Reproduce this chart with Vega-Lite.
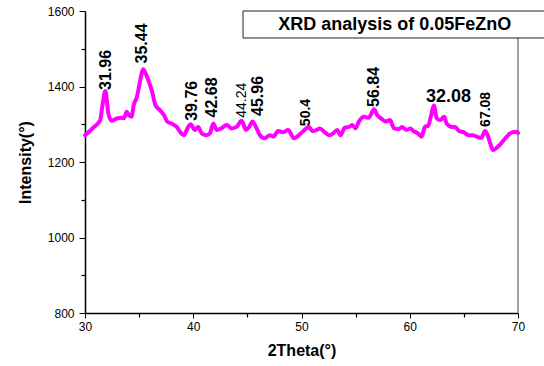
{
  "$schema": "https://vega.github.io/schema/vega-lite/v6.json",
  "width": 433,
  "height": 302,
  "autosize": {"type": "none"},
  "padding": {"left": 85, "top": 11, "right": 26, "bottom": 53},
  "config": {
    "font": "Liberation Sans",
    "view": {"stroke": null},
    "axis": {
      "grid": false,
      "domainColor": "#000000",
      "domainWidth": 1.5,
      "tickColor": "#000000",
      "tickWidth": 1,
      "labelColor": "#000000",
      "labelFont": "Liberation Sans",
      "labelFlush": false,
      "titleFont": "Liberation Sans",
      "titleColor": "#000000"
    }
  },
  "datasets": {
    "xrd": [
      {"theta": 30.0, "intensity": 1271},
      {"theta": 30.4, "intensity": 1281},
      {"theta": 30.83, "intensity": 1293},
      {"theta": 31.4, "intensity": 1310},
      {"theta": 31.6, "intensity": 1348},
      {"theta": 31.88, "intensity": 1388},
      {"theta": 32.15, "intensity": 1330},
      {"theta": 32.45, "intensity": 1309},
      {"theta": 33.0, "intensity": 1316},
      {"theta": 33.35, "intensity": 1317},
      {"theta": 33.6, "intensity": 1316},
      {"theta": 33.85, "intensity": 1333},
      {"theta": 34.06, "intensity": 1324},
      {"theta": 34.3, "intensity": 1320},
      {"theta": 34.5, "intensity": 1351},
      {"theta": 34.8, "intensity": 1373},
      {"theta": 35.14, "intensity": 1422},
      {"theta": 35.36, "intensity": 1446},
      {"theta": 35.6, "intensity": 1435},
      {"theta": 35.9, "intensity": 1413},
      {"theta": 36.2, "intensity": 1386},
      {"theta": 36.5, "intensity": 1351},
      {"theta": 36.9, "intensity": 1338},
      {"theta": 37.3, "intensity": 1324},
      {"theta": 37.6, "intensity": 1307},
      {"theta": 38.06, "intensity": 1301},
      {"theta": 38.47, "intensity": 1293},
      {"theta": 38.8, "intensity": 1279},
      {"theta": 39.14, "intensity": 1271},
      {"theta": 39.5, "intensity": 1291},
      {"theta": 39.76, "intensity": 1300},
      {"theta": 40.16, "intensity": 1285},
      {"theta": 40.46, "intensity": 1293},
      {"theta": 40.77, "intensity": 1276},
      {"theta": 41.2, "intensity": 1271},
      {"theta": 41.54, "intensity": 1276},
      {"theta": 41.85, "intensity": 1302},
      {"theta": 42.16, "intensity": 1285},
      {"theta": 42.6, "intensity": 1289},
      {"theta": 43.08, "intensity": 1298},
      {"theta": 43.54, "intensity": 1289},
      {"theta": 44.0, "intensity": 1293},
      {"theta": 44.47, "intensity": 1309},
      {"theta": 44.87, "intensity": 1285},
      {"theta": 45.17, "intensity": 1293},
      {"theta": 45.48, "intensity": 1307},
      {"theta": 45.79, "intensity": 1293},
      {"theta": 46.16, "intensity": 1271},
      {"theta": 46.6, "intensity": 1263},
      {"theta": 47.08, "intensity": 1271},
      {"theta": 47.39, "intensity": 1267},
      {"theta": 47.85, "intensity": 1282},
      {"theta": 48.3, "intensity": 1279},
      {"theta": 48.77, "intensity": 1285},
      {"theta": 49.3, "intensity": 1263},
      {"theta": 49.94, "intensity": 1276},
      {"theta": 50.4, "intensity": 1288},
      {"theta": 50.7, "intensity": 1293},
      {"theta": 51.0, "intensity": 1282},
      {"theta": 51.4, "intensity": 1285},
      {"theta": 51.7, "intensity": 1289},
      {"theta": 52.1, "intensity": 1280},
      {"theta": 52.56, "intensity": 1271},
      {"theta": 52.93, "intensity": 1276},
      {"theta": 53.3, "intensity": 1285},
      {"theta": 53.6, "intensity": 1271},
      {"theta": 54.0, "intensity": 1291},
      {"theta": 54.4, "intensity": 1293},
      {"theta": 54.7, "intensity": 1298},
      {"theta": 55.0, "intensity": 1289},
      {"theta": 55.3, "intensity": 1307},
      {"theta": 55.8, "intensity": 1320},
      {"theta": 56.2, "intensity": 1317},
      {"theta": 56.7, "intensity": 1340},
      {"theta": 57.0, "intensity": 1324},
      {"theta": 57.4, "intensity": 1314},
      {"theta": 57.8, "intensity": 1307},
      {"theta": 58.16, "intensity": 1311},
      {"theta": 58.56, "intensity": 1289},
      {"theta": 59.0, "intensity": 1287},
      {"theta": 59.27, "intensity": 1293},
      {"theta": 59.73, "intensity": 1285},
      {"theta": 60.04, "intensity": 1289},
      {"theta": 60.35, "intensity": 1282},
      {"theta": 60.75, "intensity": 1276},
      {"theta": 61.1, "intensity": 1267},
      {"theta": 61.4, "intensity": 1293},
      {"theta": 61.7, "intensity": 1296},
      {"theta": 61.98, "intensity": 1324},
      {"theta": 62.22, "intensity": 1350},
      {"theta": 62.5, "intensity": 1316},
      {"theta": 62.8, "intensity": 1311},
      {"theta": 63.18, "intensity": 1320},
      {"theta": 63.4, "intensity": 1302},
      {"theta": 63.9, "intensity": 1293},
      {"theta": 64.2, "intensity": 1293},
      {"theta": 64.56, "intensity": 1282},
      {"theta": 64.97, "intensity": 1279},
      {"theta": 65.43, "intensity": 1271},
      {"theta": 65.8, "intensity": 1271},
      {"theta": 66.2, "intensity": 1267},
      {"theta": 66.6, "intensity": 1264},
      {"theta": 66.96, "intensity": 1282},
      {"theta": 67.2, "intensity": 1271},
      {"theta": 67.45, "intensity": 1248},
      {"theta": 67.7, "intensity": 1232},
      {"theta": 68.3, "intensity": 1245},
      {"theta": 68.9, "intensity": 1265},
      {"theta": 69.4, "intensity": 1278},
      {"theta": 69.86, "intensity": 1280},
      {"theta": 70.0, "intensity": 1277}
    ],
    "peaks": [
      {"label": "31.96", "at": 31.94, "base": 1391},
      {"label": "35.44", "at": 35.28, "base": 1461},
      {"label": "39.76", "at": 39.9, "base": 1309},
      {"label": "42.68", "at": 41.77, "base": 1318},
      {"label": "44.24", "at": 44.5, "base": 1317},
      {"label": "45.96", "at": 45.96, "base": 1322},
      {"label": "50.4", "at": 50.4, "base": 1295},
      {"label": "56.84", "at": 56.73, "base": 1346},
      {"label": "32.08", "at": 63.58, "base": 1360},
      {"label": "67.08", "at": 67.07, "base": 1293}
    ],
    "one": [{}]
  },
  "resolve": {"axis": {"x": "independent", "y": "independent"}},
  "layer": [
    {
      "data": {"name": "one"},
      "mark": {"type": "rule", "color": "#808080", "strokeWidth": 1.5},
      "encoding": {
        "x": {
          "datum": 70, "type": "quantitative",
          "scale": {"domain": [30, 70], "nice": false, "zero": false},
          "axis": {"orient": "bottom", "values": [35, 45, 55, 65], "labels": false, "domain": false, "tickSize": 4, "tickWidth": 1.2, "title": null}
        },
        "y": {
          "datum": 800, "type": "quantitative",
          "scale": {"domain": [800, 1600], "nice": false, "zero": false},
          "axis": {"orient": "left", "values": [900, 1100, 1300, 1500], "labels": false, "domain": false, "tickSize": 4, "tickWidth": 1.2, "title": null}
        },
        "y2": {"datum": 1600}
      }
    },
    {
      "data": {"name": "xrd"},
      "mark": {"type": "line", "color": "#FF00FF", "strokeWidth": 4, "interpolate": "monotone", "strokeJoin": "round", "strokeCap": "round"},
      "encoding": {
        "x": {
          "field": "theta", "type": "quantitative",
          "axis": {
            "orient": "bottom", "values": [30, 40, 50, 60, 70], "tickSize": 5,
            "labelFontSize": 12, "labelPadding": 3, "format": "d",
            "title": "2Theta(°)", "titleFontSize": 16, "titleFontWeight": "bold", "titlePadding": 10
          }
        },
        "y": {
          "field": "intensity", "type": "quantitative",
          "axis": {
            "orient": "left", "values": [800, 1000, 1200, 1400, 1600], "tickSize": 6,
            "labelFontSize": 12, "labelPadding": 5, "format": "d",
            "title": "Intensity(°)", "titleFontSize": 16, "titleFontWeight": "bold", "titlePadding": 14
          }
        }
      }
    },
    {
      "data": {"name": "one"},
      "mark": {"type": "rect", "fill": "#FFFFFF"},
      "encoding": {
        "x": {"datum": 44.6, "type": "quantitative", "axis": null},
        "x2": {"datum": 75},
        "y": {"datum": 1600, "type": "quantitative", "axis": null},
        "y2": {"datum": 1528.5}
      }
    },
    {
      "data": {"name": "one"},
      "mark": {"type": "rule", "color": "#222222", "strokeWidth": 1},
      "encoding": {
        "x": {"datum": 44.6, "type": "quantitative", "axis": null},
        "x2": {"datum": 75},
        "y": {"datum": 1600, "type": "quantitative", "axis": null}
      }
    },
    {
      "data": {"name": "one"},
      "mark": {"type": "rule", "color": "#222222", "strokeWidth": 1},
      "encoding": {
        "x": {"datum": 44.6, "type": "quantitative", "axis": null},
        "x2": {"datum": 75},
        "y": {"datum": 1528.5, "type": "quantitative", "axis": null}
      }
    },
    {
      "data": {"name": "one"},
      "mark": {"type": "rule", "color": "#222222", "strokeWidth": 1},
      "encoding": {
        "x": {"datum": 44.6, "type": "quantitative", "axis": null},
        "y": {"datum": 1528.5, "type": "quantitative", "axis": null},
        "y2": {"datum": 1600}
      }
    },
    {
      "data": {"name": "one"},
      "mark": {"type": "text", "text": "XRD analysis of 0.05FeZnO", "fontSize": 18, "fontWeight": "bold", "color": "#000000", "align": "center", "baseline": "middle"},
      "encoding": {
        "x": {"datum": 58.62, "type": "quantitative", "axis": null},
        "y": {"datum": 1564, "type": "quantitative", "axis": null}
      }
    },
    {
      "data": {"name": "peaks"},
      "transform": [{"filter": {"field": "label", "oneOf": ["31.96", "35.44", "39.76", "42.68", "45.96", "56.84"]}}],
      "mark": {"type": "text", "angle": 270, "align": "left", "baseline": "middle", "fontSize": 16, "fontWeight": "bold", "color": "#000000"},
      "encoding": {
        "x": {"field": "at", "type": "quantitative", "axis": null},
        "y": {"field": "base", "type": "quantitative", "axis": null},
        "text": {"field": "label"}
      }
    },
    {
      "data": {"name": "peaks"},
      "transform": [{"filter": {"field": "label", "oneOf": ["50.4", "67.08"]}}],
      "mark": {"type": "text", "angle": 270, "align": "left", "baseline": "middle", "fontSize": 14, "fontWeight": "bold", "color": "#000000"},
      "encoding": {
        "x": {"field": "at", "type": "quantitative", "axis": null},
        "y": {"field": "base", "type": "quantitative", "axis": null},
        "text": {"field": "label"}
      }
    },
    {
      "data": {"name": "peaks"},
      "transform": [{"filter": {"field": "label", "equal": "44.24"}}],
      "mark": {"type": "text", "angle": 270, "align": "left", "baseline": "middle", "fontSize": 14, "fontWeight": "normal", "color": "#000000"},
      "encoding": {
        "x": {"field": "at", "type": "quantitative", "axis": null},
        "y": {"field": "base", "type": "quantitative", "axis": null},
        "text": {"field": "label"}
      }
    },
    {
      "data": {"name": "peaks"},
      "transform": [{"filter": {"field": "label", "equal": "32.08"}}],
      "mark": {"type": "text", "align": "center", "baseline": "alphabetic", "fontSize": 18, "fontWeight": "bold", "color": "#000000"},
      "encoding": {
        "x": {"field": "at", "type": "quantitative", "axis": null},
        "y": {"field": "base", "type": "quantitative", "axis": null},
        "text": {"field": "label"}
      }
    }
  ]
}
